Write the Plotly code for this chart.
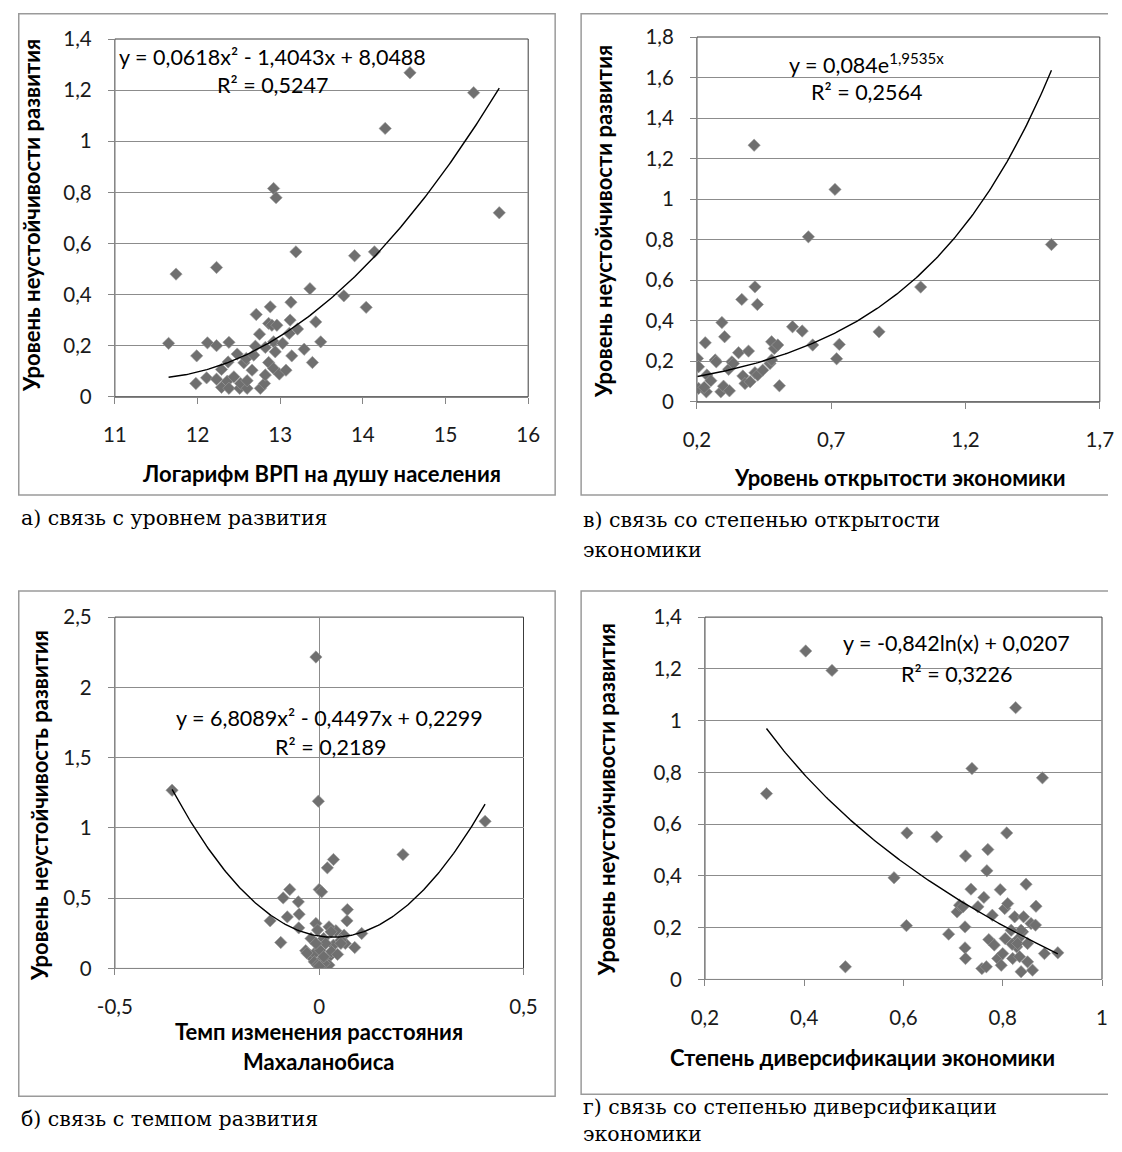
import numpy as np
import plotly.graph_objects as go

W, H = 1122, 1152

# ---------------- data ----------------
# а) связь с уровнем развития
a_x = [11.65, 11.74, 12.23, 11.99, 11.98, 12.12, 12.23, 12.11, 12.23, 12.29,
       12.29, 12.38, 12.37, 12.36, 12.38, 12.44, 12.48, 12.51, 12.52, 12.56,
       12.60, 12.60, 12.59, 12.66, 12.68, 12.70, 12.71, 12.75, 12.76, 12.81,
       12.82, 12.82, 12.86, 12.88, 12.86, 12.90, 12.92, 12.95, 12.92, 12.94,
       12.92, 12.96, 12.99, 13.03, 13.07, 13.12, 13.11, 13.13, 13.14, 13.21,
       13.19, 13.29, 13.36, 13.39, 13.43, 13.49, 13.77, 13.90, 14.04, 14.14,
       14.27, 14.57, 15.34, 15.65]
a_y = [0.209, 0.48, 0.506, 0.16, 0.052, 0.211, 0.2, 0.074, 0.069, 0.107,
       0.037, 0.213, 0.136, 0.061, 0.033, 0.078, 0.167, 0.033, 0.052, 0.133,
       0.033, 0.063, 0.15, 0.104, 0.163, 0.198, 0.322, 0.245, 0.033, 0.052,
       0.085, 0.193, 0.134, 0.352, 0.287, 0.28, 0.815, 0.779, 0.215, 0.176,
       0.111, 0.28, 0.089, 0.209, 0.104, 0.30, 0.248, 0.37, 0.16, 0.265,
       0.567, 0.186, 0.423, 0.134, 0.293, 0.215, 0.395, 0.552, 0.35, 0.567,
       1.05, 1.268, 1.19, 0.72]
a_coef = [0.0618, -1.4043, 8.0488]          # y = a x^2 + b x + c
a_xticks = [11, 12, 13, 14, 15, 16]
a_xticklabels = ["11", "12", "13", "14", "15", "16"]
a_yticks = [0, 0.2, 0.4, 0.6, 0.8, 1.0, 1.2, 1.4]
a_yticklabels = ["0", "0,2", "0,4", "0,6", "0,8", "1", "1,2", "1,4"]

# в) связь со степенью открытости экономики
v_x = [0.202, 0.206, 0.206, 0.231, 0.237, 0.235, 0.252, 0.227, 0.268, 0.272,
       0.293, 0.303, 0.289, 0.299, 0.321, 0.318, 0.33, 0.336, 0.355, 0.367,
       0.371, 0.379, 0.392, 0.398, 0.413, 0.416, 0.416, 0.425, 0.426, 0.445,
       0.472, 0.478, 0.488, 0.501, 0.478, 0.507, 0.556, 0.592, 0.631, 0.714,
       0.615, 0.72, 0.73, 0.878, 1.033, 1.52]
v_y = [0.214, 0.173, 0.066, 0.291, 0.132, 0.049, 0.104, 0.071, 0.206, 0.197,
       0.391, 0.321, 0.049, 0.077, 0.054, 0.16, 0.197, 0.189, 0.242, 0.505,
       0.127, 0.09, 0.25, 0.099, 1.266, 0.567, 0.143, 0.48, 0.132, 0.156,
       0.189, 0.296, 0.263, 0.28, 0.206, 0.079, 0.37, 0.349, 0.28, 1.048,
       0.814, 0.212, 0.283, 0.345, 0.566, 0.776]
v_coef = [0.084, 1.9535]                    # y = a e^(b x)
v_xticks = [0.2, 0.7, 1.2, 1.7]
v_xticklabels = ["0,2", "0,7", "1,2", "1,7"]
v_yticks = [0, 0.2, 0.4, 0.6, 0.8, 1.0, 1.2, 1.4, 1.6, 1.8]
v_yticklabels = ["0", "0,2", "0,4", "0,6", "0,8", "1", "1,2", "1,4", "1,6", "1,8"]

# б) связь с темпом развития
b_x = [-0.36, -0.008, -0.002, 0.0, 0.006, 0.02, 0.035, 0.205, 0.406, -0.072,
       -0.088, -0.051, -0.078, -0.049, -0.12, -0.05, -0.094, 0.069, 0.068, 0.104,
       0.087, 0.061, 0.064, 0.041, 0.024, -0.008, -0.004, -0.02, 0.011, 0.029,
       0.035, 0.016, -0.033, -0.024, -0.012, 0.002, 0.024, 0.004, -0.012, -0.004,
       0.024, 0.012, 0.053, 0.053, -0.008, 0.011, -0.03, 0.03, 0.045, 0.0]
b_y = [1.268, 2.216, 1.19, 0.562, 0.545, 0.716, 0.775, 0.81, 1.047, 0.562,
       0.502, 0.474, 0.367, 0.386, 0.339, 0.289, 0.185, 0.419, 0.339, 0.249,
       0.149, 0.237, 0.178, 0.268, 0.296, 0.32, 0.273, 0.213, 0.213, 0.261,
       0.166, 0.178, 0.126, 0.095, 0.107, 0.13, 0.083, 0.059, 0.047, 0.024,
       0.024, 0.036, 0.201, 0.178, 0.178, 0.083, 0.11, 0.12, 0.10, 0.015]
b_coef = [6.8089, -0.4497, 0.2299]          # y = a x^2 + b x + c
b_xticks = [-0.5, 0, 0.5]
b_xticklabels = ["-0,5", "0", "0,5"]
b_yticks = [0, 0.5, 1.0, 1.5, 2.0, 2.5]
b_yticklabels = ["0", "0,5", "1", "1,5", "2", "2,5"]

# г) связь со степенью диверсификации экономики
g_x = [0.324, 0.403, 0.456, 0.483, 0.581, 0.606, 0.607, 0.667, 0.691, 0.725,
       0.724, 0.725, 0.724, 0.708, 0.713, 0.72, 0.736, 0.738, 0.75, 0.758,
       0.767, 0.762, 0.768, 0.77, 0.772, 0.779, 0.783, 0.79, 0.795, 0.797,
       0.8, 0.804, 0.81, 0.805, 0.808, 0.82, 0.824, 0.826, 0.828, 0.832,
       0.834, 0.837, 0.842, 0.84, 0.847, 0.85, 0.857, 0.86, 0.866, 0.867,
       0.88, 0.884, 0.911, 0.819, 0.83, 0.837, 0.85, 0.817]
g_y = [0.718, 1.269, 1.194, 0.049, 0.393, 0.208, 0.566, 0.551, 0.175, 0.477,
       0.122, 0.081, 0.203, 0.261, 0.287, 0.281, 0.349, 0.815, 0.281, 0.042,
       0.049, 0.317, 0.42, 0.502, 0.154, 0.248, 0.133, 0.081, 0.347, 0.055,
       0.1, 0.274, 0.293, 0.158, 0.566, 0.081, 0.242, 1.05, 0.126, 0.158,
       0.088, 0.03, 0.242, 0.184, 0.368, 0.068, 0.216, 0.036, 0.21, 0.283,
       0.779, 0.1, 0.103, 0.136, 0.139, 0.19, 0.139, 0.19]
g_coef = [-0.842, 0.0207]                   # y = a ln(x) + b
g_xticks = [0.2, 0.4, 0.6, 0.8, 1.0]
g_xticklabels = ["0,2", "0,4", "0,6", "0,8", "1"]
g_yticks = [0, 0.2, 0.4, 0.6, 0.8, 1.0, 1.2, 1.4]
g_yticklabels = ["0", "0,2", "0,4", "0,6", "0,8", "1", "1,2", "1,4"]

# ---------------- trend lines from the printed equations ----------------
def span(xs):
    return np.linspace(min(xs), max(xs), 200)

a_tx = span(a_x); a_ty = a_coef[0] * a_tx ** 2 + a_coef[1] * a_tx + a_coef[2]
v_tx = span(v_x); v_ty = v_coef[0] * np.exp(v_coef[1] * v_tx)
b_tx = span(b_x); b_ty = b_coef[0] * b_tx ** 2 + b_coef[1] * b_tx + b_coef[2]
g_tx = span(g_x); g_ty = g_coef[0] * np.log(g_tx) + g_coef[1]

# ---------------- layout helpers ----------------
# target positions are given in picture pixels; the photographed page shows the
# figure slightly reduced with a thin white border, so map them back to the page
SX, OX = 0.973, 17.0
SY, OY = 0.979, 13.0

def fx(p):
    return min(max(((p - OX) / SX) / W, 0.0007), 1.0)

def fy(p):
    return min(max(1 - ((p - OY) / SY) / H, 0.0), 0.9993)

SANS = "Lato, 'Open Sans', sans-serif"
SERIF = "'DejaVu Serif', serif"
MARK = dict(symbol="diamond", size=9.5, color="#6f6f6f", line=dict(color="#9c9c9c", width=0.6))

fig = go.Figure()

panels = [
    ("", a_x, a_y, a_tx, a_ty, (114, 528), (39, 396.7), [11, 16], [0, 1.4],
     a_xticks, a_xticklabels, a_yticks, a_yticklabels, False),
    ("2", v_x, v_y, v_tx, v_ty, (697, 1100.5), (37, 401.7), [0.2, 1.7], [0, 1.8],
     v_xticks, v_xticklabels, v_yticks, v_yticklabels, False),
    ("3", b_x, b_y, b_tx, b_ty, (114, 523.3), (617, 968.3), [-0.5, 0.5], [0, 2.5],
     b_xticks, b_xticklabels, b_yticks, b_yticklabels, True),
    ("4", g_x, g_y, g_tx, g_ty, (705, 1102.7), (617, 979.3), [0.2, 1.0], [0, 1.4],
     g_xticks, g_xticklabels, g_yticks, g_yticklabels, False),
]

shapes = []
for sfx, xs, ys, tx, ty, xd, yd, xr, yr, xt, xtl, yt, ytl, zero in panels:
    xa = "x" + sfx
    ya = "y" + sfx
    fig.add_trace(go.Scatter(x=xs, y=ys, mode="markers", marker=MARK,
                             xaxis=xa, yaxis=ya, showlegend=False, hoverinfo="x+y"))
    fig.add_trace(go.Scatter(x=tx, y=ty, mode="lines", line=dict(color="#000000", width=1.4),
                             xaxis=xa, yaxis=ya, showlegend=False, hoverinfo="skip"))
    common = dict(showline=True, linecolor="#868686", linewidth=1, ticks="outside",
                  ticklen=6, tickcolor="#868686", tickwidth=1,
                  tickfont=dict(family=SANS, size=20.5, color="#1a1a1a"), fixedrange=True)
    fig.layout["xaxis" + sfx] = dict(
        common, domain=[fx(xd[0]), fx(xd[1])], range=xr, anchor=ya,
        tickmode="array", tickvals=xt, ticktext=xtl, showgrid=False,
        zeroline=zero, zerolinecolor="#8c8c8c", zerolinewidth=1,
        ticklabelstandoff=14)
    fig.layout["yaxis" + sfx] = dict(
        common, domain=[fy(yd[1]), fy(yd[0])], range=yr, anchor=xa,
        tickmode="array", tickvals=yt, ticktext=ytl, showgrid=True,
        gridcolor="#8c8c8c", gridwidth=1, zeroline=False,
        ticklabelstandoff=12)
    shapes.append(dict(type="rect", xref=xa + " domain", yref=ya + " domain",
                       x0=0, x1=1, y0=0, y1=1, line=dict(color="#3c3c3c", width=1),
                       layer="below"))

# chart-area frames (left column closed boxes, right column runs off the right edge)
FRAME = dict(color="#9a9a9a", width=1.5)
for x0, y0, x1, y1 in [(9, 12.5, 555, 495), (9, 591, 555, 1096)]:
    shapes.append(dict(type="rect", xref="paper", yref="paper",
                       x0=fx(x0), x1=fx(x1), y0=fy(y1), y1=fy(y0), line=FRAME))
for x0, y0, y1 in [(581, 12.5, 495), (581, 591, 1094)]:
    shapes.append(dict(type="path", xref="paper", yref="paper", line=FRAME,
                       path="M 1,{t} L {l},{t} L {l},{b} L 1,{b}".format(
                           l=fx(x0), t=fy(y0), b=fy(y1))))

ann = []

def text(x, y, s, size=21.5, bold=False, angle=0, family=SANS, anchor="center"):
    ann.append(dict(x=fx(x), y=fy(y), xref="paper", yref="paper",
                    text=("<b>" + s + "</b>") if bold else s, showarrow=False,
                    xanchor=anchor, yanchor="middle", textangle=angle, align="left",
                    font=dict(family=family, size=size, color="#000000")))

# equations
text(272, 57, "y = 0,0618x² - 1,4043x + 8,0488")
text(272, 85, "R² = 0,5247")
text(867, 63, "y = 0,084e<sup>1,9535x</sup>")
text(867, 92, "R² = 0,2564")
text(329, 718, "y = 6,8089x² - 0,4497x + 0,2299")
text(330, 747, "R² = 0,2189")
text(957, 643, "y = -0,842ln(x) + 0,0207")
text(957, 674, "R² = 0,3226")

# axis titles
TS = 22
text(321, 473, "Логарифм ВРП на душу населения", size=TS, bold=True)
text(30, 215, "Уровень неустойчивости развития", size=TS, bold=True, angle=-90)
text(900, 477, "Уровень открытости экономики", size=TS, bold=True)
text(603, 222, "Уровень неустойчивости развития", size=TS, bold=True, angle=-90)
text(318, 1031, "Темп изменения расстояния", size=TS, bold=True)
text(318, 1061, "Махаланобиса", size=TS, bold=True)
text(38, 805, "Уровень неустойчивость развития", size=TS, bold=True, angle=-90)
text(863, 1057, "Степень диверсификации экономики", size=TS, bold=True)
text(606, 800, "Уровень неустойчивости развития", size=TS, bold=True, angle=-90)

# captions
CS = 20.5
text(9, 518, "а) связь с уровнем развития", size=CS, family=SERIF, anchor="left")
text(581, 520, "в) связь со степенью открытости", size=CS, family=SERIF, anchor="left")
text(581, 550, "экономики", size=CS, family=SERIF, anchor="left")
text(9, 1119, "б) связь с темпом развития", size=CS, family=SERIF, anchor="left")
text(581, 1120, "г) связь со степенью диверсификации<br>экономики", size=CS,
     family=SERIF, anchor="left")

fig.update_layout(width=W, height=H, margin=dict(l=0, r=0, t=0, b=0),
                  paper_bgcolor="#ffffff", plot_bgcolor="#ffffff",
                  shapes=shapes, annotations=ann, showlegend=False)

fig.write_html(
    "out.html",
    config={"displayModeBar": False},
    post_script="document.body.style.margin='0';document.body.style.padding='0';"
                "document.documentElement.style.overflow='hidden';",
)
